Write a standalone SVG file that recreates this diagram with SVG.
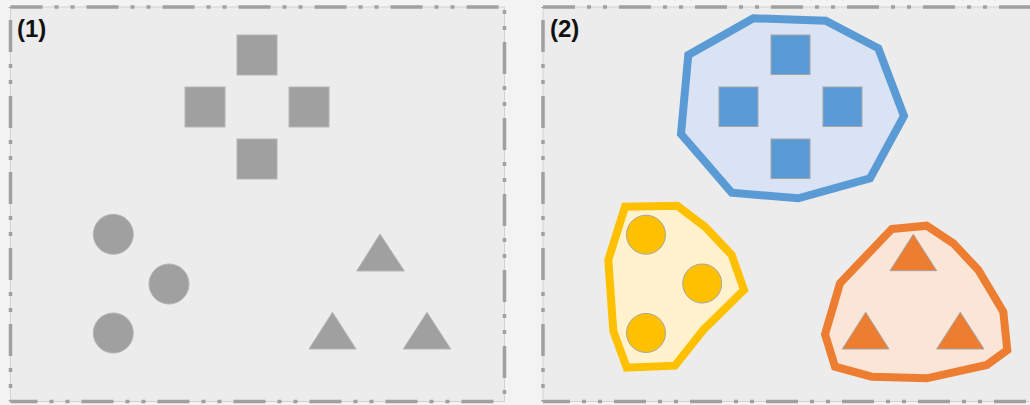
<svg xmlns="http://www.w3.org/2000/svg" width="1030" height="405" viewBox="0 0 1030 405">
  <style>
    .frame{fill:#ececec;stroke:#d2d2d2;stroke-width:1}
    .dash{fill:none;stroke:#a0a0a0;stroke-width:3.5;stroke-dasharray:32 12 4 12 4 12;stroke-linecap:butt}
    .lbl{font-family:"Liberation Sans",Arial,sans-serif;font-weight:bold;font-size:24px;fill:#111}
    .gray{fill:#a0a0a0;stroke:#b4b4b4;stroke-width:1}
    .blue{fill:#5b9bd5;stroke:#a5a5a5;stroke-width:1}
    .yel{fill:#ffc000;stroke:#a5a5a5;stroke-width:1}
    .ora{fill:#ed7d31;stroke:#a5a5a5;stroke-width:1}
    .hull{stroke-width:8;stroke-linejoin:miter}
  </style>
  <rect x="0" y="0" width="1030" height="405" fill="#f3f3f3"/>

  <g id="panel1">
    <rect class="frame" x="10.5" y="7" width="494" height="394.5"/>
    <line class="dash" x1="10.5" y1="7" x2="504.5" y2="7"/>
    <line class="dash" x1="10.5" y1="401.5" x2="504.5" y2="401.5" stroke-dashoffset="5"/>
    <line class="dash" x1="10.5" y1="7" x2="10.5" y2="401.5" stroke-dashoffset="63"/>
    <line class="dash" x1="504.5" y1="7" x2="504.5" y2="401.5" stroke-dashoffset="41"/>
    <text class="lbl" x="17" y="37">(1)</text>
  </g>

  <g id="panel2">
    <rect class="frame" x="543" y="7" width="494" height="394.5"/>
    <line class="dash" x1="543" y1="7" x2="1037" y2="7"/>
    <line class="dash" x1="543" y1="401.5" x2="1037" y2="401.5" stroke-dashoffset="5"/>
    <line class="dash" x1="543" y1="7" x2="543" y2="401.5" stroke-dashoffset="63"/>
    <text class="lbl" x="550" y="37">(2)</text>
  </g>

  <g id="squares-1">
    <rect class="gray" x="237" y="35" width="40" height="40"/>
    <rect class="gray" x="185" y="87" width="40" height="40"/>
    <rect class="gray" x="289" y="87" width="40" height="40"/>
    <rect class="gray" x="237" y="139" width="40" height="40"/>
  </g>
  <g id="circles-1">
    <circle class="gray" cx="113.3" cy="234.3" r="20"/>
    <circle class="gray" cx="169" cy="284" r="20"/>
    <circle class="gray" cx="113.3" cy="333" r="20"/>
  </g>
  <g id="triangles-1">
    <polygon class="gray" points="380,234 356.7,271 404.3,271"/>
    <polygon class="gray" points="332.5,312.3 309,349 356,349"/>
    <polygon class="gray" points="427,312.3 403.3,349 450.7,349"/>
  </g>

  <g id="cluster-blue">
    <polygon class="hull" fill="#dae3f3" stroke="#5b9bd5" points="753.3,18.3 825.7,20.7 878.3,48.3 904,116 870,178.3 798.3,198.3 731.7,192.7 681,134 688.3,55"/>
    <rect class="blue" x="771" y="35" width="39" height="39.5"/>
    <rect class="blue" x="719" y="87" width="39" height="39.5"/>
    <rect class="blue" x="823" y="87" width="39" height="39.5"/>
    <rect class="blue" x="771" y="139" width="39" height="39.5"/>
  </g>

  <g id="cluster-yellow">
    <polygon class="hull" fill="#fff2cc" stroke="#ffc000" points="625,206.7 677.3,205.7 705,226.7 731.7,255 744,290 703.3,330 675,365.7 626.7,367.7 613.3,331 608.3,260"/>
    <circle class="yel" cx="646" cy="234.7" r="19.5"/>
    <circle class="yel" cx="702.2" cy="283.5" r="19.5"/>
    <circle class="yel" cx="646" cy="333" r="19.5"/>
  </g>

  <g id="cluster-orange">
    <polygon class="hull" fill="#fbe5d6" stroke="#ed7d31" points="891.7,229 926.7,225.7 953.3,243.3 978.3,270 1003.3,311.7 1007.3,350 986.7,365 926.7,378.3 871.7,376.7 835,366.7 825,334.3 840,283.3"/>
    <polygon class="ora" points="913.3,234.3 890,270.7 936.7,270.7"/>
    <polygon class="ora" points="865.7,312.3 842.3,349 889,349"/>
    <polygon class="ora" points="960.3,312.3 936.7,349 984,349"/>
  </g>
</svg>
